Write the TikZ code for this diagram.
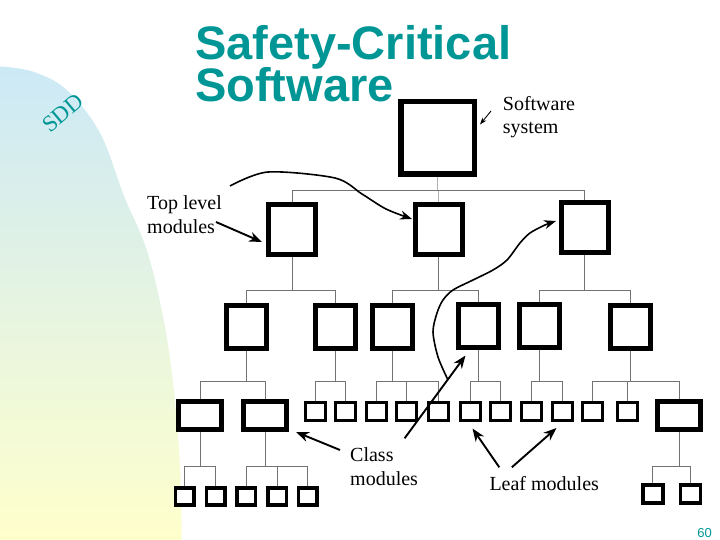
\documentclass[tikz,border=0pt]{standalone}
\usepackage{fontspec}
\setmainfont{Liberation Serif}
\newfontfamily\titlefont{Liberation Sans}
\usetikzlibrary{arrows.meta}
\definecolor{tealc}{RGB}{0,150,150}
\definecolor{connc}{RGB}{115,115,115}
\definecolor{connlc}{RGB}{175,175,175}
\definecolor{bgblue}{RGB}{204,233,246}
\definecolor{bgyellow}{RGB}{255,255,204}
\newcommand\brkt[4]{%
  \draw[cl] (#1.south) -- (#1.south |- #2);
  \draw[cl] (#3.north) -- (#3.north |- #2) -- (#4.north |- #2) -- (#4.north);}
\newcommand\dropto[2]{\draw[cl] (#1.north) -- (#1.north |- #2);}
\begin{document}
\begin{tikzpicture}[x=1pt,y=-1pt,
  box/.style={draw=black, fill=white, inner sep=0pt},
  rootbox/.style={box, line width=5.5pt, minimum width=73.5pt, minimum height=72.5pt},
  topbox/.style={box, line width=5pt, minimum width=47pt, minimum height=50pt},
  midbox/.style={box, line width=5pt, minimum width=40pt, minimum height=43pt},
  classbox/.style={box, line width=5.5pt, minimum width=43pt, minimum height=28pt},
  smallbox/.style={box, line width=3pt, minimum width=20pt, minimum height=18.5pt},
  leafbox/.style={box, line width=3.5pt, minimum width=18.5pt, minimum height=17pt},
  cl/.style={draw=connc, line width=1pt},
  cll/.style={draw=connlc, line width=1pt},
  arr/.style={draw=black, line width=1.9pt, -{Stealth[length=13pt,width=10pt]}},
  arrc/.style={draw=black, line width=1.6pt, -{Stealth[length=12pt,width=9pt]}},
  arrs/.style={draw=black, line width=0.9pt, -{Stealth[length=7pt,width=5pt]}},
  lab/.style={font=\fontsize{20}{24}\selectfont, inner sep=0pt, anchor=base west},
  ttl/.style={font=\titlefont\bfseries\fontsize{47}{47}\selectfont, text=tealc, inner sep=0pt, anchor=base west}]
\useasboundingbox (0,0) rectangle (720,540);
\fill[white] (0,0) rectangle (720,540);
% background blob
\shade[top color=bgblue, bottom color=bgyellow]
  plot[smooth, tension=0.6] coordinates {(0,66.5) (33,71.7) (66.7,90) (100,133) (124,196) (146.7,250) (163,316.7) (173,383) (180,466.7) (181.7,540)}
  -- (0,540) -- cycle;
% title and labels
\node[ttl] (ti1) at (195,59.5) {Safety-Critical};
\node[ttl] (ti2) at (195,101.5) {Software};
\node[font=\fontsize{23}{23}\selectfont, text=tealc, rotate=40, inner sep=0pt] (sdd) at (63,113) {SDD};
\node[font=\titlefont\fontsize{13}{13}\selectfont, text=tealc, anchor=base east, inner sep=0pt] (pg) at (712,537) {60};
\node[lab] (sw1) at (502.7,110.7) {Software};
\node[lab] (sw2) at (502.7,134) {system};
\node[lab] (tl1) at (147,210) {Top level};
\node[lab] (tl2) at (147,233.3) {modules};
\node[lab] (cm1) at (350,461.7) {Class};
\node[lab] (cm2) at (350,485) {modules};
\node[lab] (lm) at (489.3,490.7) {Leaf modules};
% boxes
\node[rootbox] (root) at (437.5,138) {};
\node[topbox] (T1) at (292,229.5) {};
\node[topbox] (T2) at (438.5,229.5) {};
\node[topbox] (T3) at (584.5,227.5) {};
\node[midbox] (M1) at (246.8,327) {};
\node[midbox] (M2) at (335.8,327) {};
\node[midbox] (M3) at (392.8,327) {};
\node[midbox] (M4) at (478,326) {};
\node[midbox] (M5) at (539,326) {};
\node[midbox] (M6) at (630,327) {};
\node[classbox] (C1) at (200,415.7) {};
\node[classbox] (C2) at (265,415.7) {};
\node[classbox] (C3) at (679,415.5) {};
\foreach \nm/\xx in {S1/315.5, S2/345.8, S3/376.7, S4/406.5, S5/438.8, S6/470.8, S7/500.8, S8/531.7, S9/562, S10/592.5, S11/627}
  \node[smallbox] (\nm) at (\xx,411.7) {};
\foreach \nm/\xx in {L1/184.5, L2/215.5, L3/246.2, L4/277, L5/307.8}
  \node[leafbox] (\nm) at (\xx,496.3) {};
\node[leafbox, minimum width=20pt, minimum height=18pt] (L6) at (652.8,494) {};
\node[leafbox, minimum width=20pt, minimum height=18pt] (L7) at (690.5,494) {};
% bracket levels
\coordinate (y0) at (0,191);
\coordinate (y1) at (0,290);
\coordinate (y2) at (0,381);
\coordinate (y3) at (0,466);
% connectors
\draw[cll] (root.south) -- (root.south |- y0);
\draw[cll] (T2.north |- y0) -- (T2.north);
\draw[cl] (T1.north) -- (T1.north |- y0) -- (T3.north |- y0) -- (T3.north);
\brkt{T1}{y1}{M1}{M2}
\brkt{T2}{y1}{M3}{M4}
\brkt{T3}{y1}{M5}{M6}
\brkt{M1}{y2}{C1}{C2}
\brkt{M2}{y2}{S1}{S2}
\brkt{M3}{y2}{S3}{S5}
\dropto{S4}{y2}
\brkt{M4}{y2}{S6}{S7}
\brkt{M5}{y2}{S8}{S9}
\brkt{M6}{y2}{S10}{C3}
\dropto{S11}{y2}
\brkt{C1}{y3}{L1}{L2}
\brkt{C2}{y3}{L3}{L5}
\dropto{L4}{y3}
\brkt{C3}{y3}{L6}{L7}
% arrow coordinates
\coordinate (swA) at (491,111);
\coordinate (swB) at (480,124.5);
\coordinate (tlA) at (216,222);
\coordinate (tlB) at (262,242);
\coordinate (cmA) at (340,450);
\coordinate (cmB) at (296,432);
\coordinate (cmC) at (404.6,438.3);
\coordinate (cmD) at (465.5,355.5);
\coordinate (lmA) at (499.3,467.3);
\coordinate (lmB) at (472.5,428.5);
\coordinate (lmC) at (511.8,467.3);
\coordinate (lmD) at (556.5,428);
% arrows
\draw[arrs] (swA) -- (swB);
\draw[arr] (tlA) -- (tlB);
\draw[arrc] plot[smooth, tension=0.5] coordinates {(230,186) (268,172) (335,178) (362,194) (386,209) (412,219)};
\draw[arr] (cmA) -- (cmB);
\draw[arr] (cmC) -- (cmD);
\draw[arrc] plot[smooth, tension=0.5] coordinates {(448,380) (438,357) (433,332) (437,313) (443,300) (453,290) (473,280) (493,270) (507,260) (520,243) (530,233) (545,225) (556,221)};
\draw[arr] (lmA) -- (lmB);
\draw[arr] (lmC) -- (lmD);
\end{tikzpicture}
\end{document}
